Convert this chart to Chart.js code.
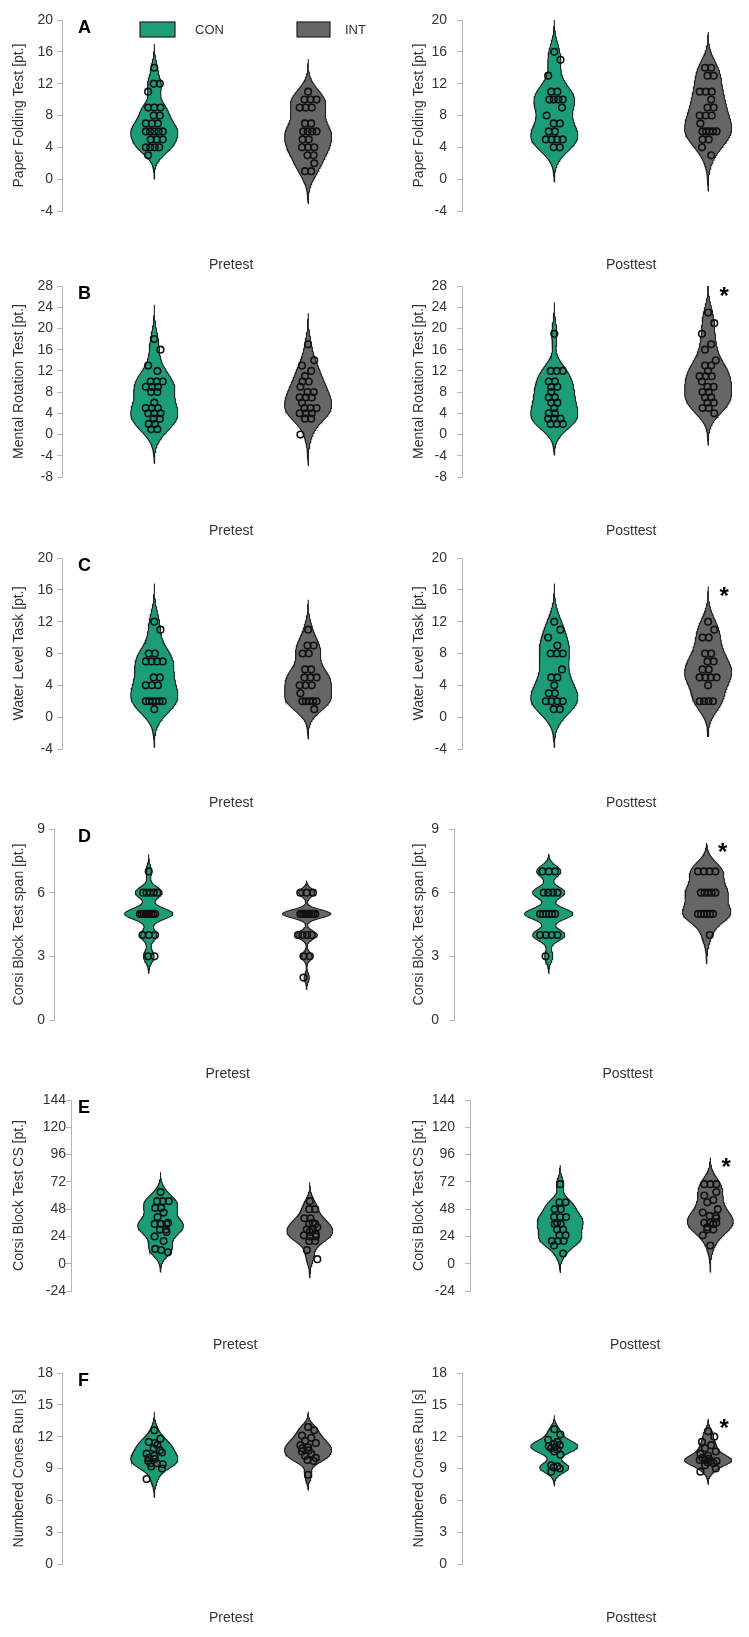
<!DOCTYPE html>
<html><head><meta charset="utf-8">
<script src="https://cdn.jsdelivr.net/npm/chart.js@4.4.1/dist/chart.umd.min.js"></script>
<style>
html,body{margin:0;padding:0;background:#fff;overflow:hidden;width:749px;height:1637px;position:relative}
.p{position:absolute}
canvas{display:block}
</style></head><body>
<script>
// ---------------- data ----------------
const groups = ['CON', 'INT'];
const phases = ['Pretest', 'Posttest'];
const panelLetters = ['A', 'B', 'C', 'D', 'E', 'F'];
const yTitles = ['Paper Folding Test [pt.]', 'Mental Rotation Test [pt.]', 'Water Level Task [pt.]',
  'Corsi Block Test span [pt.]', 'Corsi Block Test CS [pt.]', 'Numbered Cones Run [s]'];
const yMin = [-4, -8, -4, 0, -24, 0];
const yMax = [20, 28, 20, 9, 144, 18];
const yStep = [4, 4, 4, 3, 24, 3];

const pfPreCON = [14,12,12,11,9,9,9,8,8,7,7,7,6,6,6,6,6,5,5,5,4,4,4,4,3];
const pfPreINT = [11,10,10,10,9,9,9,7,7,6,6,6,6,5,5,4,4,4,3,3,2,1,1];
const pfPostCON = [16,15,13,11,11,10,10,10,10,9,8,7,7,6,6,5,5,5,5,4,4];
const pfPostINT = [14,14,13,13,11,11,11,10,9,9,8,8,8,7,6,6,6,6,6,5,5,4,3];
const mrPreCON = [18,16,13,12,10,10,10,9,9,9,8,8,6,5,5,5,4,4,4,3,3,2,2,1,1];
const mrPreINT = [17,14,13,12,11,10,10,9,8,8,7,7,7,6,5,5,5,4,4,4,3,3,0];
const mrPostCON = [19,12,12,12,10,10,9,9,8,7,7,6,6,5,4,4,3,3,3,2,2,2];
const mrPostINT = [23,21,19,17,16,14,13,13,12,11,11,11,10,9,9,8,8,7,7,6,6,5,5,4];
const wlPreCON = [12,11,8,8,7,7,7,7,5,5,4,4,4,2,2,2,2,2,2,1];
const wlPreINT = [11,9,9,8,8,6,6,5,5,5,4,4,4,3,2,2,2,2,2,1];
const wlPostCON = [12,11,10,9,8,8,8,6,5,5,4,3,3,2,2,2,2,1,1];
const wlPostINT = [12,11,10,10,8,8,7,7,6,6,5,5,5,5,4,2,2,2,2];
const spanPreCON = [7,6,6,6,6,6,5,5,5,5,5,5,5,5,5,4,4,4,3,3];
const spanPreINT = [6,6,6,5,5,5,5,5,5,5,5,5,4,4,4,4,3,3,2];
const spanPostCON = [7,7,7,6,6,6,6,5,5,5,5,5,5,4,4,4,4,3];
const spanPostINT = [7,7,7,7,6,6,6,6,6,5,5,5,5,5,5,4];
const csPreCON = [63,55,55,55,49,49,45,41,36,35,35,35,30,30,28,24,20,13,12,10];
const csPreINT = [55,48,48,40,40,36,35,35,32,30,30,28,26,25,24,24,20,20,12,4];
const csPostCON = [70,54,54,48,48,41,41,41,36,35,35,30,30,25,25,20,20,20,16,9];
const csPostINT = [70,70,70,63,60,56,54,48,45,42,42,40,36,36,36,35,32,30,30,25,16];
const ncrPreCON = [12.6,11.8,11.5,11.4,11.2,10.9,10.7,10.5,10.4,10.2,10.0,9.9,9.7,9.5,9.5,9.4,9.2,9.0,8.0];
const ncrPreINT = [12.9,12.6,12.1,11.9,11.6,11.4,11.2,11.0,10.9,10.7,10.6,10.4,10.2,10.0,9.8,9.7,8.4];
const ncrPostCON = [12.7,12.2,11.7,11.5,11.3,11.2,11.1,11.0,10.9,10.8,10.6,10.3,9.3,9.2,9.1,9.0,8.7];
const ncrPostINT = [12.5,12.0,11.5,11.2,10.9,10.6,10.4,10.2,10.0,9.9,9.8,9.8,9.7,9.7,9.6,9.5,9.3,9.0,8.7];

// [row][phase][group]
const panelData = [
  [[pfPreCON, pfPreINT], [pfPostCON, pfPostINT]],
  [[mrPreCON, mrPreINT], [mrPostCON, mrPostINT]],
  [[wlPreCON, wlPreINT], [wlPostCON, wlPostINT]],
  [[spanPreCON, spanPreINT], [spanPostCON, spanPostINT]],
  [[csPreCON, csPreINT], [csPostCON, csPostINT]],
  [[ncrPreCON, ncrPreINT], [ncrPostCON, ncrPostINT]]
];
// KDE bandwidths
const kdeBandwidth = [
  [[1.0, 1.36], [1.45, 1.5]],
  [[2.15, 1.95], [1.97, 2.0]],
  [[1.6, 1.25], [1.6, 1.47]],
  [[0.27, 0.19], [0.27, 0.45]],
  [[5.8, 5.5], [5.55, 7.8]],
  [[0.58, 0.48], [0.44, 0.4]]
];
const significantPost = [false, true, true, true, true, true];

// ---------------- layout / style ----------------
const FONT = "'Liberation Sans', Arial, Helvetica, sans-serif";
Chart.defaults.font.family = FONT;
const groupColors = ['#1B9E77', '#666666'];
const rowTickTop = [20, 286, 558, 829, 1100, 1373];
const axisXLeft = [62, 62, 62, 54, 71, 62];
const axisXRight = [87, 87, 87, 79, 95, 87];
const tickGapLeft = [9, 9, 9, 9, 5, 9];
const H = 280, PADTOP = 20, AREA_H = 191;
const XMIN = -0.6, XMAX = 1.6, HALFW = 0.153, JIT = 0.055;

function kde(vals, bw, y) {
  let d = 0;
  for (const v of vals) { const z = (y - v) / bw; d += Math.exp(-0.5 * z * z); }
  return d;
}

function violin(vals, bw, cx) {
  const lo = Math.min(...vals) - 3 * bw, hi = Math.max(...vals) + 3 * bw;
  const N = 160, ys = [], ds = [];
  for (let i = 0; i <= N; i++) {
    const y = lo + (hi - lo) * i / N;
    ys.push(y); ds.push(kde(vals, bw, y));
  }
  const m = Math.max(...ds);
  const right = ys.map((y, i) => ({ x: cx + HALFW * ds[i] / m, y }));
  const left = ys.map((y, i) => ({ x: cx - HALFW * ds[i] / m, y })).reverse();
  return right.concat(left, [right[0]]);
}

// deterministic spread of tied / close values
function beeswarm(vals, range) {
  const tol = range * 0.012;
  const bins = new Map();
  vals.forEach((v, i) => { const k = Math.round(v / tol); if (!bins.has(k)) bins.set(k, []); bins.get(k).push(i); });
  const off = new Array(vals.length).fill(0);
  const pattern = [0, 0.04, -0.04, 0.02, -0.02, 0.05, -0.05];
  let g = 0;
  for (const idx of bins.values()) {
    const k = idx.length;
    let s = Math.min(0.04, 0.2 / Math.max(k - 1, 1));
    let c = k === 1 ? pattern[g % pattern.length] : pattern[g % 3] * 0.4;
    const half = (k - 1) / 2 * s;
    if (half + Math.abs(c) > JIT) { const f = JIT / (half + Math.abs(c)); s *= f; c *= f; }
    idx.forEach((i, j) => { off[i] = c + (j - (k - 1) / 2) * s; });
    g++;
  }
  return off;
}

function makePanel(r, s) {
  const axisX = s === 0 ? axisXLeft[r] : axisXRight[r];
  const virtRight = s === 0 ? 375 : 400;
  const pxu = (virtRight - axisX) / 2;
  const W = Math.round(axisX + (XMAX - XMIN) * pxu);
  const padLeft = s === 0 ? 11 : 36;
  const gap = s === 0 ? tickGapLeft[r] : 15;
  const left = s * 375, top = rowTickTop[r] - PADTOP;

  const div = document.createElement('div');
  div.className = 'p';
  div.style.left = left + 'px'; div.style.top = top + 'px';
  div.style.width = W + 'px'; div.style.height = H + 'px';
  const cv = document.createElement('canvas');
  cv.width = W; cv.height = H; cv.style.width = W + 'px'; cv.style.height = H + 'px';
  div.appendChild(cv); document.body.appendChild(div);

  const range = yMax[r] - yMin[r];
  const datasets = [];
  groups.forEach((g, gi) => {
    const vals = panelData[r][s][gi];
    const off = beeswarm(vals, range);
    datasets.push({
      label: g + ' points', data: vals.map((v, i) => ({ x: gi + off[i], y: v })),
      showLine: false, pointRadius: 3.3, pointBorderWidth: 1.6, pointBorderColor: '#111',
      pointBackgroundColor: 'rgba(0,0,0,0)', order: 0
    });
  });
  groups.forEach((g, gi) => {
    datasets.push({
      label: g, data: violin(panelData[r][s][gi], kdeBandwidth[r][s][gi], gi),
      showLine: true, fill: 'shape', backgroundColor: groupColors[gi], borderColor: '#1e1e1e',
      borderWidth: 1.1, pointRadius: 0, tension: 0, order: 1
    });
  });

  const titleLH = 14 * 1.2;
  const xTitlePad = 54 - titleLH / 2;
  const deco = {
    id: 'deco' + r + s,
    afterDraw(chart) {
      const ctx = chart.ctx;
      ctx.save();
      if (s === 0) {
        ctx.font = 'bold 18px ' + FONT; ctx.fillStyle = '#000';
        ctx.textAlign = 'left'; ctx.textBaseline = 'middle';
        ctx.fillText(panelLetters[r], 78, PADTOP + 8);
      }
      if (r === 0 && s === 0) {
        ctx.lineWidth = 1.2; ctx.strokeStyle = '#222';
        const boxes = [[140, 35, 195], [297, 33, 345]];
        groups.forEach((g, gi) => {
          const [bx, bw, tx] = boxes[gi];
          ctx.fillStyle = groupColors[gi];
          ctx.fillRect(bx, 22, bw, 15); ctx.strokeRect(bx, 22, bw, 15);
          ctx.fillStyle = '#333'; ctx.font = '13px ' + FONT;
          ctx.textAlign = 'left'; ctx.textBaseline = 'middle';
          ctx.fillText(g, tx, 30);
        });
      }
      if (s === 1 && significantPost[r]) {
        const vals = panelData[r][1][1];
        const topV = Math.min(Math.max(...vals) + 3 * kdeBandwidth[r][1][1], yMax[r]);
        const py = chart.scales.y.getPixelForValue(topV) + 4;
        const px = chart.scales.x.getPixelForValue(1) + 16;
        ctx.font = 'bold 24px ' + FONT; ctx.fillStyle = '#000';
        ctx.textAlign = 'center'; ctx.textBaseline = 'alphabetic';
        ctx.fillText('*', px, py + 13.7);
      }
      ctx.restore();
    }
  };

  new Chart(cv, {
    type: 'scatter',
    data: { datasets },
    options: {
      responsive: false, animation: false, devicePixelRatio: 1,
      layout: { padding: { left: padLeft, right: 0, top: PADTOP, bottom: H - PADTOP - AREA_H - (titleLH + xTitlePad) } },
      plugins: { legend: { display: false }, tooltip: { enabled: false } },
      scales: {
        x: {
          type: 'linear', min: XMIN, max: XMAX,
          ticks: { display: false }, grid: { display: false, drawTicks: false }, border: { display: false },
          title: { display: true, text: phases[s], color: '#333', font: { size: 14 }, padding: { top: xTitlePad, bottom: 0 } }
        },
        y: {
          type: 'linear', min: yMin[r], max: yMax[r],
          ticks: { stepSize: yStep[r], color: '#333', font: { size: 14 }, padding: gap - 5 },
          grid: { display: true, drawOnChartArea: false, drawTicks: true, tickLength: 5, color: '#b5b5b5' },
          border: { display: true, color: '#b5b5b5', width: 1 },
          title: { display: true, text: yTitles[r], color: '#333', font: { size: 14 }, padding: { top: 0, bottom: 0 } },
          afterFit(sc) { sc.width = axisX - padLeft; }
        }
      }
    },
    plugins: [deco]
  });
}

for (let r = 0; r < 6; r++) for (let s = 0; s < 2; s++) makePanel(r, s);
</script>
</body></html>
